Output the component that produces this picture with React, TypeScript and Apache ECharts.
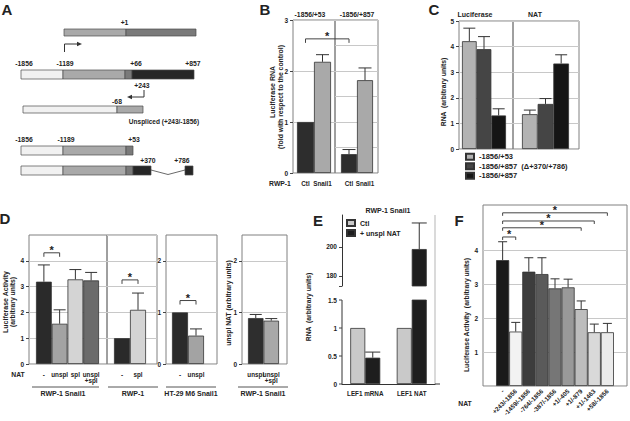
import React, { useEffect, useRef } from 'react';
import * as echarts from 'echarts';

const FONT = 'Liberation Sans, Arial, sans-serif';
const INK = '#222';

// ---------- Panel B ----------
const bConstructs = ['-1856/+53', '-1856/+857'];
const bCats = ['Ctl', 'Snail1'];
const bVals53 = [1.0, 2.18];
const bErr53 = [null, 2.32];
const bVals857 = [0.37, 1.82];
const bErr857 = [0.46, 2.06];

// ---------- Panel C ----------
const cGroups = ['Luciferase', 'NAT'];
const cSeries = ['-1856/+53', '-1856/+857  (\u0394+370/+786)', '-1856/+857'];
const cLuc = [4.21, 3.9, 1.31];
const cLucErr = [4.72, 4.39, 1.57];
const cNat = [1.36, 1.76, 3.34];
const cNatErr = [1.52, 1.97, 3.68];

// ---------- Panel D ----------
const dCats1 = ['-', 'unspl', 'spl', 'unspl\n+spl'];
const dVals1 = [3.19, 1.56, 3.28, 3.24];
const dErr1 = [3.84, 2.1, 3.66, 3.55];
const dCats2 = ['-', 'spl'];
const dVals2 = [1.0, 2.1];
const dErr2 = [null, 2.75];
const dCats3 = ['-', 'unspl'];
const dVals3 = [1.0, 0.55];
const dErr3 = [null, 0.68];
const dCats4 = ['unspl', 'unspl\n+spl'];
const dVals4 = [0.89, 0.84];
const dErr4 = [0.96, 0.88];
const dGroups = ['RWP-1 Snail1', 'RWP-1', 'HT-29 M6 Snail1', 'RWP-1 Snail1'];

// ---------- Panel E ----------
const eCats = ['LEF1 mRNA', 'LEF1 NAT'];
const eSeries = ['Ctl', '+ unspl NAT'];
const eCtl = [1.0, 1.0];
const eNat = [0.47, 198.5];
const eNatErr = [0.57, 216.5];
const eUpperTicks = [180, 200];
const eLowerTicks = [0, 0.5, 1, 1.5];

// ---------- Panel F ----------
const fCats = ['-', '+243/-1856', '-1459/-1856', '-764/-1856', '-387/-1856', '+1/-405', '+1/-879', '+1/-1463', '+58/-1856'];
const fVals = [3.7, 1.6, 3.36, 3.29, 2.87, 2.9, 2.26, 1.58, 1.58];
const fErr = [4.24, 1.87, 3.77, 3.77, 3.15, 3.14, 2.5, 1.82, 1.84];

// significance brackets: [from grid key, from index, to grid key, to index, level]
const sigBrackets: [string, number, string, number, number][] = [
  ['b1', 0, 'b2', 0, 2.63],
  ['d1', 0, 'd1', 1, 4.31],
  ['d2', 0, 'd2', 1, 3.26],
  ['d3', 0, 'd3', 1, 1.23],
  ['f', 1, 'f', 2, 4.38],
  ['f', 1, 'f', 7, 4.65],
  ['f', 1, 'f', 8, 4.85],
  ['f', 1, 'f', 9, 5.09],
];

// styles
const B_COLORS = ['#2d2d2d', '#a9a9a9'];
const C_COLORS = ['#b3b3b3', '#454545', '#151515'];
const D1_COLORS = ['#2a2a2a', '#a3a3a3', '#d4d4d4', '#6b6b6b'];
const D2_COLORS = ['#2a2a2a', '#d4d4d4'];
const D3_COLORS = ['#2a2a2a', '#a3a3a3'];
const D4_COLORS = ['#2e2e2e', '#a8a8a8'];
const E_COLORS = ['#c9c9c9', '#1e1e1e'];
const F_COLORS = ['#1a1a1a', '#f2f2f2', '#3d3d3d', '#5a5a5a', '#767676', '#999999', '#bdbdbd', '#d9d9d9', '#ebebeb'];

const numLabel = { fontSize: 6.5, fontFamily: FONT, fontWeight: 'bold', color: INK };
const catLabel = { fontSize: 6.3, fontFamily: FONT, fontWeight: 'bold', color: INK };

const E_LOWER_RECT = { left: 342, top: 300, width: 93, height: 84 };
const E_UPPER_RECT = { left: 342, top: 215, width: 93, height: 71 };
const E_LOWER_RANGE = { min: 0, max: 1.5 };

function buildOption() {
  const grids: any[] = [];
  const xAxes: any[] = [];
  const yAxes: any[] = [];
  const series: any[] = [];

  const addBg = (
    r: any, y: any, labels?: number[],
    o: { border?: boolean; ticks?: boolean; split?: boolean; axisLine?: boolean; tickValues?: number[] } = {}
  ) => {
    const { border = true, ticks = true, split = true, axisLine = false } = o;
    const gi = grids.length;
    grids.push({ ...r, show: border, borderColor: '#808080', borderWidth: 1 });
    xAxes.push({ type: 'value', gridIndex: gi, show: false, min: 0, max: 1 });
    yAxes.push({
      type: 'value', gridIndex: gi, min: y.min, max: y.max, interval: y.interval,
      axisLine: { show: axisLine, onZero: false, lineStyle: { color: '#333', width: 1 } },
      axisTick: labels && ticks
        ? { show: true, length: 3, customValues: o.tickValues || labels, lineStyle: { color: '#444' } }
        : { show: false },
      axisLabel: labels ? { show: true, customValues: labels, margin: 5, ...numLabel } : { show: false },
      splitLine: { show: split, lineStyle: { color: '#c8c8c8', width: 1 } },
    });
    return gi;
  };

  const addBars = (r: any, y: any, cats: string[], label?: any, border = false, xLine = false) => {
    const gi = grids.length;
    grids.push({ ...r, show: border, borderColor: '#808080', borderWidth: 1 });
    xAxes.push({
      type: 'category', gridIndex: gi, data: cats,
      axisLine: { show: xLine, onZero: false, lineStyle: { color: '#333', width: 1 } },
      axisTick: { show: false }, splitLine: { show: false },
      axisLabel: label ? { show: true, interval: 0, ...catLabel, lineHeight: 6.5, margin: 7, ...label } : { show: false },
    });
    yAxes.push({ type: 'value', gridIndex: gi, min: y.min, max: y.max, show: false });
    return gi;
  };

  const bars = (gi: number, vals: (number | null)[], colors: (string | undefined)[]) =>
    series.push({
      type: 'bar', xAxisIndex: gi, yAxisIndex: gi, barCategoryGap: '0%', silent: true,
      itemStyle: { borderColor: '#333', borderWidth: 0.8 },
      data: vals.map((v, i) => (v == null ? '-' : { value: v, itemStyle: { color: colors[i] } })),
    });

  const errs = (gi: number, vals: (number | null)[], tops: (number | null)[], cap: number, offset = 0) =>
    series.push({
      type: 'custom', xAxisIndex: gi, yAxisIndex: gi, clip: true, silent: true, z: 3,
      encode: { x: 0, y: [1, 2] },
      data: tops.map((t, i) => (t == null || vals[i] == null ? null : [i, vals[i], t])).filter((d) => d),
      renderItem: (_p: any, api: any) => {
        const a = api.coord([api.value(0), api.value(1)]);
        const b = api.coord([api.value(0), api.value(2)]);
        const x = a[0] + offset;
        const st = { stroke: '#333', lineWidth: 1 };
        return {
          type: 'group',
          children: [
            { type: 'line', shape: { x1: x, y1: a[1], x2: x, y2: b[1] }, style: st },
            { type: 'line', shape: { x1: x - cap / 2, y1: b[1], x2: x + cap / 2, y2: b[1] }, style: st },
          ],
        };
      },
    });

  // ----- B -----
  const YB = { min: 0, max: 3, interval: 0.5 };
  addBg({ left: 293, top: 20, width: 42, height: 153 }, YB, [0, 1, 2, 3]);
  addBg({ left: 335, top: 20, width: 43, height: 153 }, YB);
  const b1 = addBars({ left: 297, top: 20, width: 34, height: 153 }, YB, bCats, { margin: 7 });
  const b2 = addBars({ left: 341, top: 20, width: 32, height: 153 }, YB, bCats, { margin: 7 });
  bars(b1, bVals53, B_COLORS);
  errs(b1, bVals53, bErr53, 13);
  bars(b2, bVals857, B_COLORS);
  errs(b2, bVals857, bErr857, 13);

  // ----- C -----
  const YC = { min: 0, max: 5, interval: 1 };
  addBg({ left: 459, top: 21, width: 54, height: 128 }, YC, [0, 1, 2, 3, 4, 5]);
  addBg({ left: 513, top: 21, width: 66, height: 128 }, YC);
  const c1 = addBars({ left: 462, top: 21, width: 44, height: 128 }, YC, cSeries);
  const c2 = addBars({ left: 522, top: 21, width: 47, height: 128 }, YC, cSeries);
  ([[c1, cLuc, cLucErr], [c2, cNat, cNatErr]] as any[]).forEach(([g, v, e]) => {
    cSeries.forEach((name, k) =>
      series.push({
        type: 'bar', name, xAxisIndex: g, yAxisIndex: g, barCategoryGap: '0%', barGap: '-100%', silent: true,
        itemStyle: { color: C_COLORS[k], borderColor: '#333', borderWidth: 0.8 },
        data: v.map((val: number, j: number) => (j === k ? val : '-')),
      })
    );
    errs(g, v, e, 12);
  });

  // ----- D -----
  const YD = { min: 0, max: 5, interval: 1 };
  const YD2 = { min: 0, max: 2.5, interval: 0.5 };
  const dLab = { margin: 7, lineHeight: 6 };
  addBg({ left: 29, top: 235, width: 78, height: 129 }, YD, [0, 1, 2, 3, 4]);
  addBg({ left: 107, top: 235, width: 50, height: 129 }, YD);
  addBg({ left: 166, top: 235, width: 51, height: 129 }, YD2, [0, 1, 2]);
  addBg({ left: 242, top: 235, width: 45, height: 129 }, YD2, [0, 1, 2]);
  const d1 = addBars({ left: 36, top: 235, width: 63, height: 129 }, YD, dCats1, dLab);
  const d2 = addBars({ left: 114, top: 235, width: 32, height: 129 }, YD, dCats2, dLab);
  const d3 = addBars({ left: 172, top: 235, width: 32, height: 129 }, YD2, dCats3, dLab);
  const d4 = addBars({ left: 248, top: 235, width: 31, height: 129 }, YD2, dCats4, dLab);
  bars(d1, dVals1, D1_COLORS);
  errs(d1, dVals1, dErr1, 12);
  bars(d2, dVals2, D2_COLORS);
  errs(d2, dVals2, dErr2, 12);
  bars(d3, dVals3, D3_COLORS);
  errs(d3, dVals3, dErr3, 12);
  bars(d4, dVals4, D4_COLORS);
  errs(d4, dVals4, dErr4, 12);

  // ----- E (broken axis: upper and lower parts) -----
  const EU = { min: 173, max: 222 };
  addBg(E_UPPER_RECT, EU, eUpperTicks, { border: false, split: false, axisLine: true, tickValues: [173, ...eUpperTicks] });
  const eU = addBars(E_UPPER_RECT, EU, eCats);
  const eL = addBars(E_LOWER_RECT, E_LOWER_RANGE, eCats, { margin: 6, lineHeight: 7 }, false, true);
  [eU, eL].forEach((g) => {
    eSeries.forEach((name, k) =>
      series.push({
        type: 'bar', name, xAxisIndex: g, yAxisIndex: g, barWidth: 15, barGap: '0%', silent: true,
        itemStyle: { color: E_COLORS[k], borderColor: '#333', borderWidth: 0.8 },
        data: k === 0 ? eCtl : eNat,
      })
    );
    errs(g, eNat, eNatErr, 15, 7.5);
  });

  // ----- F -----
  const fPadCats = [' ', ...fCats, '  '];
  const fPadVals = [null, ...fVals, null];
  const fPadErr = [null, ...fErr, null];
  const fPadColors = [undefined, ...F_COLORS, undefined];
  addBg({ left: 483, top: 250, width: 144, height: 136 }, { min: 0, max: 4, interval: 1 }, [1, 2, 3, 4], { border: false, ticks: false });
  const f = addBars(
    { left: 483, top: 205, width: 144, height: 181 }, { min: 0, max: 5.32 }, fPadCats,
    { rotate: 45, fontSize: 6.3, margin: 4, lineHeight: 7 }, true
  );
  bars(f, fPadVals, fPadColors);
  errs(f, fPadVals, fPadErr, 9);

  const legendText = { fontSize: 7.5, fontFamily: FONT, fontWeight: 'bold', color: INK };
  const option = {
    animation: false,
    backgroundColor: '#ffffff',
    textStyle: { fontFamily: FONT },
    grid: grids,
    xAxis: xAxes,
    yAxis: yAxes,
    series,
    legend: [
      {
        data: cSeries, orient: 'vertical', left: 465, top: 152, padding: 0, itemGap: 0,
        itemWidth: 8, itemHeight: 6, selectedMode: false, icon: 'rect',
        textStyle: { ...legendText, lineHeight: 9.5 },
      },
      {
        data: eSeries, orient: 'vertical', left: 346, top: 218, padding: 0, itemGap: 0,
        itemWidth: 8, itemHeight: 6, selectedMode: false, icon: 'rect',
        textStyle: { ...legendText, fontSize: 7, lineHeight: 10 },
      },
    ],
  };
  const keys: Record<string, number> = { b1, b2, d1, d2, d3, f, eL };
  return { option, keys };
}

function txt(text: string, x: number, y: number, size = 7, extra: any = {}, rot = 0) {
  return {
    type: 'text', x, y, rotation: rot, silent: true, z: 10,
    style: {
      text, fontSize: size, fontFamily: FONT, fontWeight: 'bold', fill: INK,
      align: 'center', verticalAlign: 'middle', textAlign: 'center', textVerticalAlign: 'middle', ...extra,
    },
  };
}
function ln(x1: number, y1: number, x2: number, y2: number, stroke = '#444', w = 1) {
  return { type: 'line', silent: true, z: 10, shape: { x1, y1, x2, y2 }, style: { stroke, lineWidth: w } };
}

function staticGraphics() {
  const g: any[] = [];
  const V = Math.PI / 2;
  // panel letters
  [['A', 7, 9], ['B', 265, 9], ['C', 434, 9], ['D', 5, 218], ['E', 318, 220], ['F', 459, 220]].forEach(([t, x, y]) =>
    g.push(txt(t as string, x as number, y as number, 15))
  );

  // ----- Panel A schematic -----
  const segs: [number, number, number, number, string][] = [
    [64, 126, 29, 36, '#a9a9a9'], [126, 196, 29, 36, '#7a7a7a'],
    [21, 63, 70, 79, '#f1f1f1'], [63, 125, 70, 79, '#a9a9a9'], [125, 132, 70, 79, '#7a7a7a'], [132, 194, 70, 79, '#262626'],
    [23, 117, 106, 113, '#f1f1f1'], [117, 143, 106, 113, '#a9a9a9'],
    [21, 63, 146, 155, '#f1f1f1'], [63, 126, 146, 155, '#a9a9a9'], [126, 133, 146, 155, '#7a7a7a'],
    [21, 63, 166, 175, '#f1f1f1'], [63, 126, 166, 175, '#a9a9a9'], [126, 133, 166, 175, '#7a7a7a'], [133, 151, 166, 175, '#262626'],
    [185, 193, 166, 175, '#262626'],
  ];
  segs.forEach(([x0, x1, y0, y1, c]) =>
    g.push({
      type: 'rect', silent: true, z: 10, shape: { x: x0, y: y0, width: x1 - x0, height: y1 - y0 },
      style: { fill: c, stroke: '#4a4a4a', lineWidth: 0.7 },
    })
  );
  g.push({ type: 'polyline', silent: true, z: 10, shape: { points: [[151, 170], [168, 174.5], [185, 170]] }, style: { stroke: '#444', lineWidth: 0.8, fill: 'none' } });
  g.push({ type: 'polyline', silent: true, z: 10, shape: { points: [[64.5, 52], [64.5, 44], [78, 44]] }, style: { stroke: '#333', lineWidth: 1, fill: 'none' } });
  g.push({ type: 'polygon', silent: true, z: 10, shape: { points: [[82, 44], [77, 41.8], [77, 46.2]] }, style: { fill: '#333' } });
  g.push({ type: 'polyline', silent: true, z: 10, shape: { points: [[144, 90], [144, 97], [131, 97]] }, style: { stroke: '#333', lineWidth: 1, fill: 'none' } });
  g.push({ type: 'polygon', silent: true, z: 10, shape: { points: [[127, 97], [132, 94.8], [132, 99.2]] }, style: { fill: '#333' } });
  const aLabels: [string, number, number][] = [
    ['+1', 124.5, 22.5], ['-1856', 24, 63.5], ['-1189', 65, 63.5], ['+66', 136, 63.5], ['+857', 193, 63.5],
    ['+243', 142, 85.5], ['-68', 117, 101], ['-1856', 24, 139.5], ['-1189', 66, 139.5], ['+53', 134, 139.5],
    ['+370', 148, 160.5], ['+786', 182, 160.5],
  ];
  aLabels.forEach(([t, x, y]) => g.push(txt(t, x, y, 6.8)));
  g.push(txt('Unspliced (+243/-1856)', 164, 121, 6.5));

  // ----- Panel B texts -----
  g.push(txt(bConstructs[0], 310, 14, 6.8));
  g.push(txt(bConstructs[1], 357, 14, 6.8));
  g.push(txt('RWP-1', 280, 183, 6.8));
  g.push(txt('Luciferase RNA', 272, 92, 7, {}, V));
  g.push(txt('(fold with respect to the control)', 280, 97, 6.8, {}, V));

  // ----- Panel C texts -----
  g.push(txt(cGroups[0], 475, 14, 7));
  g.push(txt(cGroups[1], 535, 14, 7));
  g.push(txt('RNA  (arbitrary units)', 443, 92, 6.8, {}, V));

  // ----- Panel D texts -----
  g.push(txt('NAT', 18, 374.5, 6.8));
  g.push(txt('Luciferase Activity', 5, 302, 7, {}, V));
  g.push(txt('(arbitrary units)', 12, 302, 6.8, {}, V));
  g.push(txt('unspl NAT (arbitrary units)', 228, 303, 6.8, {}, V));
  const under: [number, number, number][] = [[32, 99, 63], [108, 158, 133], [166, 216, 191], [238, 288, 263]];
  under.forEach(([x1, x2, cx], i) => {
    g.push(ln(x1, 387, x2, 387, '#555', 1));
    g.push(txt(dGroups[i], cx, 393, 7));
  });

  // ----- Panel E texts -----
  g.push(txt('RWP-1 Snail1', 388, 210, 7));
  g.push(txt('RNA  (arbitrary units)', 308, 307, 6.8, {}, V));
  g.push(ln(435, 215, 435, 384, '#b5b5b5', 1));
  g.push(ln(435, 384, 440, 384, '#333', 1));
  return g;
}

// lower E axis (line, ticks, labels) placed through the lower grid's own scale
function eLowerAxis(chart: any, keys: Record<string, number>) {
  const out: any[] = [];
  const r = E_LOWER_RECT;
  const x0 = r.left;
  const linear = (v: number) =>
    r.top + r.height * (1 - (v - E_LOWER_RANGE.min) / (E_LOWER_RANGE.max - E_LOWER_RANGE.min));
  const yOf = (v: number) => {
    let p: any = null;
    try {
      p = chart.convertToPixel({ xAxisIndex: keys.eL, yAxisIndex: keys.eL }, [0, v]);
    } catch (e) {
      p = null;
    }
    const y = p && isFinite(p[1]) ? p[1] : NaN;
    return isFinite(y) && y >= r.top - 1 && y <= r.top + r.height + 1 ? y : linear(v);
  };
  const yTop = yOf(eLowerTicks[eLowerTicks.length - 1]);
  const yBot = yOf(eLowerTicks[0]);
  out.push({ type: 'line', z: 50, silent: true, shape: { x1: x0, y1: yTop, x2: x0, y2: yBot }, style: { stroke: '#333', lineWidth: 1 } });
  eLowerTicks.forEach((v) => {
    const y = yOf(v);
    out.push({ type: 'line', z: 50, silent: true, shape: { x1: x0 - 3, y1: y, x2: x0, y2: y }, style: { stroke: '#444', lineWidth: 1 } });
    out.push({
      type: 'text', z: 50, silent: true, x: x0 - 5, y,
      style: {
        text: String(v), fontSize: 6.5, fontFamily: FONT, fontWeight: 'bold', fill: INK,
        align: 'right', verticalAlign: 'middle', textAlign: 'right', textVerticalAlign: 'middle',
      },
    });
  });
  return out;
}

function bracketGraphics(chart: any, keys: Record<string, number>) {
  const out: any[] = [];
  sigBrackets.forEach(([k1, i1, k2, i2, level]) => {
    const p1 = chart.convertToPixel({ gridIndex: keys[k1] }, [i1, level]);
    const p2 = chart.convertToPixel({ gridIndex: keys[k2] }, [i2, level]);
    if (!p1 || !p2) return;
    const y = p1[1];
    const tick = k1 === 'f' ? 3 : 4;
    out.push({
      type: 'polyline', silent: true, z: 10,
      shape: { points: [[p1[0], y + tick], [p1[0], y], [p2[0], y], [p2[0], y + tick]] },
      style: { stroke: '#444', lineWidth: 1, fill: 'none' },
    });
    out.push(txt('*', (p1[0] + p2[0]) / 2, y - 3, 11));
  });
  return out;
}

export default function App() {
  const ref = useRef<HTMLDivElement>(null);
  useEffect(() => {
    if (!ref.current) return;
    const chart = echarts.init(ref.current, null, { renderer: 'svg' });
    const { option, keys } = buildOption();
    chart.setOption(option as any);
    const extra: any[] = [];
    extra.push(txt('NAT', 465, 403, 6.8));
    extra.push(txt('Luciferase Activity  (arbitrary units)', 466, 315, 6.8, {}, Math.PI / 2));
    chart.setOption({
      graphic: [...eLowerAxis(chart, keys), ...staticGraphics(), ...extra, ...bracketGraphics(chart, keys)],
    } as any);
    return () => chart.dispose();
  }, []);
  return (
    <div
      ref={ref}
      style={{ position: 'fixed', left: 0, top: 0, width: 630, height: 421, background: '#fff' }}
    />
  );
}
